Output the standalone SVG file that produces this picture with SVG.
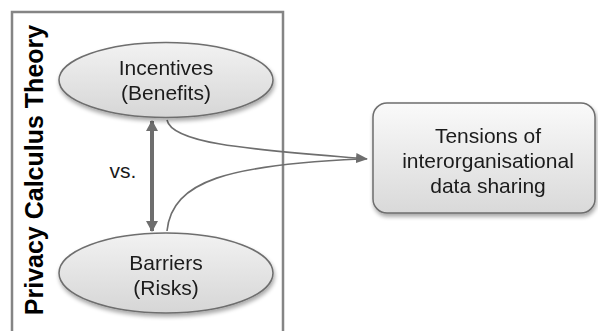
<svg xmlns="http://www.w3.org/2000/svg" width="598" height="331" viewBox="0 0 598 331">
<defs>
<linearGradient id="gE" x1="0" y1="0" x2="0" y2="1">
<stop offset="0" stop-color="#f2f2f2"/>
<stop offset="1" stop-color="#d6d6d6"/>
</linearGradient>
<linearGradient id="gB" x1="0" y1="0" x2="0" y2="1">
<stop offset="0" stop-color="#fafafa"/>
<stop offset="1" stop-color="#d9d9d9"/>
</linearGradient>
<filter id="sh" x="-10%" y="-10%" width="130%" height="140%">
<feGaussianBlur in="SourceAlpha" stdDeviation="2"/>
<feOffset dx="1" dy="3" result="b"/>
<feComponentTransfer><feFuncA type="linear" slope="0.35"/></feComponentTransfer>
<feMerge><feMergeNode/><feMergeNode in="SourceGraphic"/></feMerge>
</filter>
<marker id="ah" markerWidth="12" markerHeight="10" refX="11" refY="5" orient="auto" markerUnits="userSpaceOnUse">
<path d="M0,0 L12,5 L0,10 z" fill="#6e6e6e"/>
</marker>
<marker id="ah2" markerWidth="11" markerHeight="12" refX="10" refY="6" orient="auto-start-reverse" markerUnits="userSpaceOnUse">
<path d="M0,0 L11,6 L0,12 z" fill="#6e6e6e"/>
</marker>
</defs>
<style>
text{font-family:"Liberation Sans",Arial,sans-serif;fill:#1a1a1a;font-size:21px;text-anchor:middle}
.node{fill:url(#gE);stroke:#6e6e6e;stroke-width:1.5}
.conn{fill:none;stroke:#6e6e6e;stroke-width:1.6}
</style>
<rect width="598" height="331" fill="#ffffff"/>
<g id="frame">
<path d="M12,340 V12 H283 V340" fill="none" stroke="#858585" stroke-width="2.5"/>
<text transform="translate(43,170) rotate(-90)" style="font-size:25px;font-weight:bold;fill:#000">Privacy Calculus Theory</text>
</g>
<g id="connectors">
<path class="conn" d="M167,120 C172,145 260,150 367,159" marker-end="url(#ah)"/>
<path class="conn" d="M167,231 C172,180 230,165 360,159"/>
<line x1="152" y1="121" x2="152" y2="231" stroke="#6e6e6e" stroke-width="4" marker-start="url(#ah2)" marker-end="url(#ah2)"/>
<text x="123" y="178" style="text-anchor:middle">vs.</text>
</g>
<g id="incentives" filter="url(#sh)">
<ellipse class="node" cx="166" cy="80" rx="107" ry="37.5"/>
<text x="166" y="75">Incentives</text>
<text x="166" y="100">(Benefits)</text>
</g>
<g id="barriers" filter="url(#sh)">
<ellipse class="node" cx="166" cy="273" rx="107" ry="40"/>
<text x="166" y="270">Barriers</text>
<text x="166" y="295">(Risks)</text>
</g>
<g id="tensions" filter="url(#sh)">
<rect x="373" y="103" width="222" height="110" rx="14" fill="url(#gB)" stroke="#6e6e6e" stroke-width="1.5"/>
<text x="488" y="143">Tensions of</text>
<text x="488" y="168">interorganisational</text>
<text x="488" y="193">data sharing</text>
</g>
</svg>
